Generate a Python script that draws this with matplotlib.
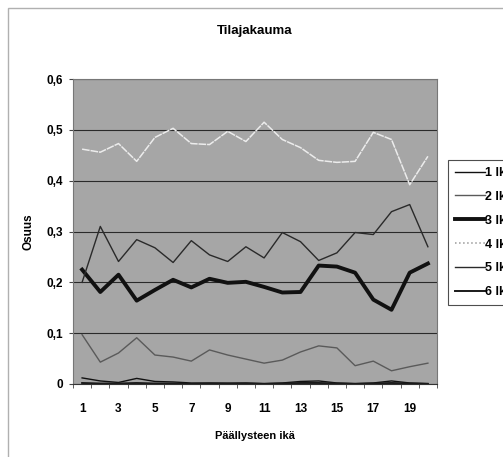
import matplotlib
matplotlib.use("Agg")
import matplotlib.pyplot as plt
from matplotlib.patches import Rectangle
from matplotlib.ticker import FuncFormatter

plt.rcParams['font.family'] = ['Liberation Sans', 'DejaVu Sans']

# Age of pavement (years) and share of each class
ika = list(range(1, 21))
lk1 = [0.012, 0.006, 0.003, 0.011, 0.005, 0.004, 0.002, 0.002, 0.002, 0.002,
       0.001, 0.002, 0.005, 0.006, 0.002, 0.001, 0.002, 0.006, 0.002, 0.001]
lk2 = [0.097, 0.043, 0.061, 0.091, 0.057, 0.053, 0.045, 0.067, 0.057, 0.049,
       0.041, 0.047, 0.063, 0.075, 0.071, 0.036, 0.045, 0.026, 0.034, 0.041]
lk3 = [0.225, 0.181, 0.215, 0.164, 0.185, 0.205, 0.190, 0.207, 0.199, 0.201,
       0.191, 0.180, 0.181, 0.233, 0.231, 0.219, 0.166, 0.146, 0.219, 0.237]
lk4 = [0.462, 0.456, 0.473, 0.438, 0.485, 0.503, 0.473, 0.471, 0.497, 0.477,
       0.515, 0.481, 0.465, 0.440, 0.436, 0.438, 0.495, 0.481, 0.392, 0.448]
lk5 = [0.200, 0.310, 0.241, 0.284, 0.268, 0.239, 0.282, 0.254, 0.241, 0.270,
       0.248, 0.298, 0.280, 0.243, 0.258, 0.298, 0.294, 0.339, 0.353, 0.270]
lk6 = [0.002, 0.001, 0.001, 0.002, 0.001, 0.001, 0.000, 0.001, 0.000, 0.001,
       0.000, 0.001, 0.002, 0.002, 0.001, 0.000, 0.001, 0.002, 0.001, 0.000]
labels = ['1 lk', '2 lk', '3 lk', '4 lk', '5 lk', '6 lk']

fig = plt.figure(figsize=(5.03, 4.57), dpi=100)
fig.patches.append(Rectangle((8 / 503, -0.01), 1.0, 1 - 8 / 457 + 0.01,
                             transform=fig.transFigure, fill=False,
                             edgecolor='#b0b0b0', linewidth=1))
ax = fig.add_axes([73 / 503, 1 - 384 / 457, 364 / 503, 305 / 457])
ax.set_facecolor('#a6a6a6')

ax.plot(ika, lk1, color='#111111', lw=1.0, label=labels[0])
ax.plot(ika, lk2, color='#5a5a5a', lw=1.0, label=labels[1])
ax.plot(ika, lk3, color='#111111', lw=2.8, label=labels[2])
ax.plot(ika, lk4, color='#ececec', lw=1.1, ls=(0, (5, 0.6)), label=labels[3])
ax.plot(ika, lk5, color='#2a2a2a', lw=1.0, label=labels[4])
ax.plot(ika, lk6, color='#1a1a1a', lw=1.4, label=labels[5])

ax.set_xlim(0.5, 20.5)
ax.set_ylim(0, 0.6)
ax.set_yticks([0, 0.1, 0.2, 0.3, 0.4, 0.5, 0.6])
ax.yaxis.set_major_formatter(FuncFormatter(lambda v, p: ('%g' % round(v, 1)).replace('.', ',')))
ax.set_xticks(range(1, 20, 2))
ax.set_xticks([i + 0.5 for i in range(0, 21)], minor=True)
ax.tick_params(axis='x', which='major', length=0, pad=14)
ax.tick_params(axis='x', which='minor', length=3, direction='out', color='#444444')
ax.tick_params(axis='y', length=3, direction='out', color='#444444', pad=4)
for t in ax.get_xticklabels() + ax.get_yticklabels():
    t.set_fontsize(8.5)
    t.set_fontweight('bold')

ax.grid(axis='y', color='#2a2a2a', lw=0.8)
ax.set_axisbelow(True)
for s in ax.spines.values():
    s.set_color('#777777')
    s.set_linewidth(0.8)
ax.spines['bottom'].set_color('#333333')

fig.text(255 / 503, 1 - 31 / 457, 'Tilajakauma', ha='center', va='center',
         fontsize=9.5, fontweight='bold')
ax.set_ylabel('Osuus', fontsize=8.5, fontweight='bold', labelpad=9)
ax.set_xlabel('Päällysteen ikä', fontsize=8, fontweight='bold', labelpad=11)

leg = fig.legend(loc='upper left', bbox_to_anchor=(448 / 503, 1 - 160 / 457),
                 bbox_transform=fig.transFigure, frameon=True, fancybox=False,
                 fontsize=9, handlelength=2.4, handletextpad=0.0,
                 labelspacing=0.95, borderpad=0.55, borderaxespad=0)
leg.get_frame().set_edgecolor('#222222')
leg.get_frame().set_linewidth(0.8)
for t in leg.get_texts():
    t.set_fontweight('bold')
leg.legend_handles[3].set_color('#999999')
leg.legend_handles[3].set_linestyle(':')

fig.savefig('out.png', dpi=100)
